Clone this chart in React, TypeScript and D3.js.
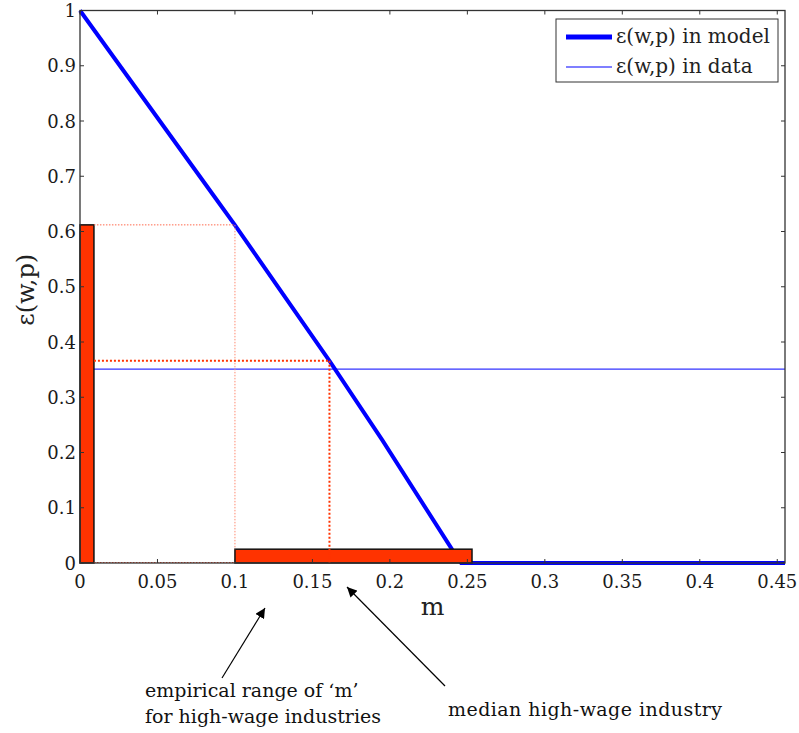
import React from "react";
import * as d3 from "d3";

// model curve eps(w,p) as a function of m
const mValues = [0, 0.0883, 0.0999, 0.161, 0.195, 0.24, 0.246, 0.455];
const epsModel = [1, 0.657, 0.612, 0.366, 0.223, 0.025, 0, 0];
// eps(w,p) measured in the data
const epsData = 0.351;
// empirical range of m for high-wage industries and the median
const mRange = [0.1, 0.253];
const mMedian = 0.161;
const epsAtRangeLow = 0.612;
const epsAtMedian = 0.366;
const barThickM = 0.009;
const barThickEps = 0.025;

const xTicks = [0, 0.05, 0.1, 0.15, 0.2, 0.25, 0.3, 0.35, 0.4, 0.45];
const yTicks = [0, 0.1, 0.2, 0.3, 0.4, 0.5, 0.6, 0.7, 0.8, 0.9, 1];
const legendLabels = ["ε(w,p) in model", "ε(w,p) in data"];

const width = 799;
const height = 733;
const left = 80;
const right = 785;
const top = 10.5;
const bottom = 563;

const axisColor = "#333";
const red = "#ff3300";
const textFont = "DejaVu Serif, serif";

export default function App() {
  const x = d3.scaleLinear().domain([0, 0.455]).range([left, right]);
  const y = d3.scaleLinear().domain([0, 1]).range([bottom, top]);

  const modelLine = d3
    .line<number>()
    .x((d) => x(d))
    .y((d, i) => y(epsModel[i]));

  const tl = 4;

  return (
    <svg
      width={width}
      height={height}
      style={{ position: "absolute", left: 0, top: 0, background: "#fff" }}
    >
      <defs>
        <marker
          id="arrow"
          viewBox="0 0 10 10"
          refX="10"
          refY="5"
          markerWidth="10"
          markerHeight="10"
          markerUnits="userSpaceOnUse"
          orient="auto"
        >
          <path d="M0,0 L10,5 L0,10 z" fill="#000" />
        </marker>
      </defs>
      <rect x={left} y={top} width={right - left} height={bottom - top} fill="#fff" />

      {/* eps in data */}
      <line
        x1={x(0)}
        x2={x(0.455)}
        y1={y(epsData)}
        y2={y(epsData)}
        stroke="#3333ff"
        strokeWidth={1.2}
      />

      {/* eps in model */}
      <path d={modelLine(mValues) ?? ""} fill="none" stroke="#0000ff" strokeWidth={4} />

      {/* bars: range of eps and range of m */}
      <rect
        x={x(0)}
        y={y(epsAtRangeLow)}
        width={x(barThickM) - x(0)}
        height={y(0) - y(epsAtRangeLow)}
        fill={red}
        stroke="#111"
        strokeWidth={1.5}
      />
      <rect
        x={x(mRange[0])}
        y={y(barThickEps)}
        width={x(mRange[1]) - x(mRange[0])}
        height={y(0) - y(barThickEps)}
        fill={red}
        stroke="#111"
        strokeWidth={1.5}
      />

      {/* dotted guides */}
      <g fill="none">
        <line
          x1={x(barThickM)}
          x2={x(mRange[0])}
          y1={y(epsAtRangeLow)}
          y2={y(epsAtRangeLow)}
          stroke="#ff6a4d"
          strokeWidth={1}
          strokeDasharray="1.5,1.5"
        />
        <line
          x1={x(mRange[0])}
          x2={x(mRange[0])}
          y1={y(epsAtRangeLow)}
          y2={y(barThickEps)}
          stroke="#ff8a70"
          strokeWidth={1}
          strokeDasharray="1.5,1.5"
        />
        <line
          x1={x(barThickM)}
          x2={x(mRange[0])}
          y1={y(0) - 0.5}
          y2={y(0) - 0.5}
          stroke="#ff4020"
          strokeWidth={1}
          strokeDasharray="1.5,1.5"
        />
        <line
          x1={x(barThickM)}
          x2={x(mMedian)}
          y1={y(epsAtMedian)}
          y2={y(epsAtMedian)}
          stroke={red}
          strokeWidth={2}
          strokeDasharray="2,2"
        />
        <line
          x1={x(mMedian)}
          x2={x(mMedian)}
          y1={y(epsAtMedian)}
          y2={y(0)}
          stroke={red}
          strokeWidth={2}
          strokeDasharray="2,2"
        />
      </g>

      {/* axes box and ticks */}
      <g stroke={axisColor} strokeWidth={1}>
        <rect
          x={left}
          y={top}
          width={right - left}
          height={bottom - top}
          fill="none"
          strokeWidth={1.3}
        />
        {xTicks.map((t) => (
          <g key={"xt" + t}>
            <line x1={x(t)} x2={x(t)} y1={bottom} y2={bottom - tl} />
            <line x1={x(t)} x2={x(t)} y1={top} y2={top + tl} />
          </g>
        ))}
        {yTicks.map((t) => (
          <g key={"yt" + t}>
            <line x1={left} x2={left + tl} y1={y(t)} y2={y(t)} />
            <line x1={right} x2={right - tl} y1={y(t)} y2={y(t)} />
          </g>
        ))}
      </g>

      <g fontFamily={textFont} fontSize={18} fill="#1a1a1a">
        {xTicks.map((t) => (
          <text key={"xl" + t} x={x(t)} y={bottom + 25} textAnchor="middle">
            {d3.format("~g")(t)}
          </text>
        ))}
        {yTicks.map((t) => (
          <text key={"yl" + t} x={left - 4} y={y(t) + 6.5} textAnchor="end">
            {d3.format("~g")(t)}
          </text>
        ))}
      </g>

      {/* axis titles */}
      <text x={(left + right) / 2} y={615} textAnchor="middle" fontFamily={textFont} fontSize={25} fill="#222">
        m
      </text>
      <text
        transform={`translate(34, ${(top + bottom) / 2 + 3}) rotate(-90)`}
        textAnchor="middle"
        fontFamily={textFont}
        fontSize={24}
        fill="#222"
      >
        ε(w,p)
      </text>

      {/* legend */}
      <g>
        <rect x={556} y={19} width={222} height={63} fill="#fff" stroke={axisColor} strokeWidth={1} />
        {legendLabels.map((lab, i) => (
          <g key={lab}>
            <line
              x1={566}
              x2={612}
              y1={37 + i * 30}
              y2={37 + i * 30}
              stroke="#0000ff"
              strokeWidth={i === 0 ? 5 : 1.2}
            />
            <text x={616} y={43 + i * 30} fontFamily={textFont} fontSize={20} fill="#222">
              {lab}
            </text>
          </g>
        ))}
      </g>

      {/* annotations */}
      <g stroke="#000" strokeWidth={1.2}>
        <line x1={222} y1={678} x2={265} y2={608} markerEnd="url(#arrow)" />
        <line x1={445} y1={686} x2={347} y2={587} markerEnd="url(#arrow)" />
      </g>
      <g fontFamily={textFont} fontSize={19} fill="#111">
        <text x={145} y={697}>empirical range of ‘m’</text>
        <text x={145} y={723}>for high-wage industries</text>
        <text x={448} y={716} textLength={274} lengthAdjust="spacing">median high-wage industry</text>
      </g>
    </svg>
  );
}
